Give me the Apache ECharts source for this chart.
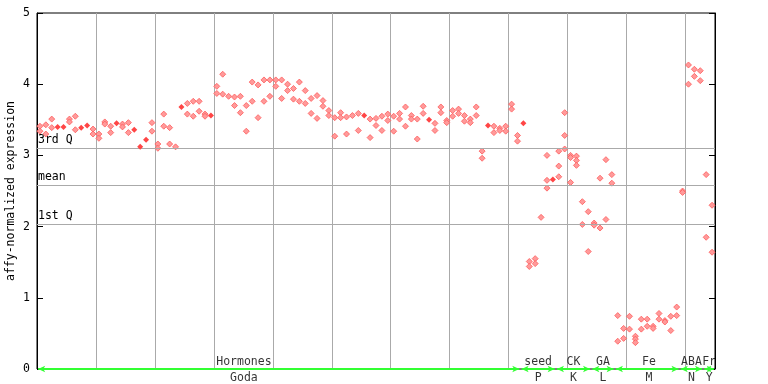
<!DOCTYPE html>
<html><head><meta charset="utf-8">
<script src="https://cdn.jsdelivr.net/npm/echarts@6/dist/echarts.min.js"></script>
<style>html,body{margin:0;padding:0;background:#fff}#c{width:768px;height:384px}</style>
</head><body><div id="c"></div>
<script>
// replicate values per sample (sample i drawn at x = i + 0.5)
const rep1 = [3.41,3.43,3.51,3.40,3.40,3.51,3.55,3.39,3.42,3.37,
  3.30,3.47,3.41,3.45,3.44,3.46,3.36,3.12,3.22,3.46,
  3.16,3.58,3.39,3.12,3.68,3.73,3.76,3.76,3.58,3.56,
  3.97,4.14,3.83,3.82,3.83,3.70,4.03,3.99,4.06,4.06,
  4.06,4.06,4.00,3.94,4.03,3.91,3.80,3.84,3.77,3.63,
  3.53,3.60,3.54,3.56,3.59,3.56,3.51,3.52,3.55,3.58,
  3.55,3.59,3.68,3.56,3.51,3.69,3.50,3.45,3.68,3.49,
  3.63,3.65,3.56,3.51,3.68,3.06,3.42,3.41,3.38,3.41,
  3.72,3.28,3.45,1.51,1.55,2.13,3.00,2.66,3.06,3.60,
  3.00,2.99,2.35,2.21,2.05,2.68,2.94,2.73,0.75,0.57,
  0.74,0.46,0.70,0.70,0.60,0.78,0.68,0.74,0.87,2.50,
  4.27,4.21,4.19,2.73,2.30];
const rep2 = [3.34,3.30,3.39,3.40,3.40,3.47,3.36,3.39,3.42,3.30,
  3.24,3.44,3.32,3.45,3.40,3.32,3.36,3.12,3.22,3.34,
  3.10,3.41,3.16,null,3.68,3.58,3.55,3.62,3.55,3.56,
  3.87,3.86,null,3.70,3.60,3.34,3.76,3.53,3.76,3.83,
  3.97,3.80,3.91,3.79,3.76,3.73,3.59,3.52,3.69,3.56,
  3.27,3.53,3.30,null,3.35,3.56,3.25,3.42,3.35,3.49,
  3.34,3.51,3.41,3.51,3.23,3.59,3.50,3.35,3.60,3.46,
  3.55,3.59,3.48,3.46,3.56,2.96,3.42,3.32,3.35,3.34,
  3.65,3.20,3.45,1.44,1.48,null,2.65,2.66,2.85,3.28,
  2.97,2.93,2.03,1.65,2.02,1.98,2.10,2.61,0.39,0.43,
  0.56,0.42,0.56,0.60,0.57,0.70,0.66,0.54,0.75,2.48,
  4.00,4.11,4.05,1.85,1.64];
const rep3Index = [86,88,89,90,91,101];
const rep3Value = [2.54,2.70,3.09,2.62,2.86,0.37];

const quartileNames = ['3rd Q','mean','1st Q'];
const quartileValues = [3.10,2.58,2.03];

const groupTop = ['Hormones','seed','CK','GA','Fe','ABA','Fr'];
const groupBottom = ['Goda','P','K','L','M','N','Y'];
const groupStart = [0,82,88,94,98,109,113];
const groupEnd = [82,88,94,98,109,113,115];
const groupLabelAt = [35.1,85,91,96,103.8,111,114];

const yTitle = 'affy-normalized expression';

const F = 'DejaVu Sans Mono';
const hollow = [], filled = [];
for (let i = 0; i < rep1.length; i++) {
  const vals = [rep1[i], rep2[i]];
  const k = rep3Index.indexOf(i);
  if (k >= 0) vals.push(rep3Value[k]);
  const v = vals.filter(d => d !== null);
  const x = i + 0.5;
  if (v.length === 2 && v[0] === v[1]) filled.push([x, v[0]]);
  else v.forEach(d => hollow.push([x, d]));
}

const chart = echarts.init(document.getElementById('c'), null, {renderer:'canvas'});
const yBase = {
  type:'value', min:0, max:5, interval:1,
  axisLine:{show:true, lineStyle:{color:'#000', width:1}},
  axisTick:{show:true, inside:true, length:6, lineStyle:{color:'#000'}},
  splitLine:{show:false}
};
chart.setOption({
  animation:false,
  backgroundColor:'#fff',
  grid:{left:37, right:53, top:13, bottom:15, show:true, borderColor:'#000', borderWidth:1,
    containLabel:false, outerBoundsMode:'none'},
  graphic:[{type:'text', x:11.5, y:191, rotation:Math.PI/2,
    style:{text:yTitle, fill:'#000', font:'11.5px "DejaVu Sans Mono"',
      textAlign:'center', textVerticalAlign:'middle'}}],
  xAxis:{type:'value', min:0, max:115, interval:10,
    axisLine:{show:false}, axisTick:{show:false}, axisLabel:{show:false},
    splitLine:{show:true, lineStyle:{color:'#aaaaaa', width:1}}},
  yAxis:[
    Object.assign({}, yBase, {position:'left',
      axisLabel:{color:'#000', fontFamily:F, fontSize:11.5, margin:7}}),
    Object.assign({}, yBase, {position:'right', axisLabel:{show:false}})
  ],
  series:[
    {type:'line', data:[], silent:true,
      markLine:{silent:true, symbol:'none', animation:false,
        lineStyle:{color:'#aaaaaa', width:1, type:'solid'},
        label:{show:true, position:'insideStartTop', formatter:'{b}', distance:[1,2],
          color:'#000', fontFamily:F, fontSize:11.5},
        data: quartileValues.map((v,k)=>({name:quartileNames[k], yAxis:v}))}},
    {type:'scatter', data:hollow, symbol:'diamond', symbolSize:6, z:4,
      itemStyle:{color:'#ff9a9a', borderColor:'#ff5a5a', borderWidth:0.8, opacity:1}},
    {type:'scatter', data:filled, symbol:'diamond', symbolSize:6, z:5,
      itemStyle:{color:'#ff4545', opacity:1}},
    {type:'line', data:[], silent:true, z:6,
      markLine:{silent:true, symbol:['arrow','arrow'], symbolSize:[5,7], animation:false,
        lineStyle:{color:'#33ff33', width:2, type:'solid'},
        label:{show:false},
        data: groupStart.map((s,k)=>[{coord:[s+0.2,0]},{coord:[groupEnd[k]-0.2,0]}])}},
    {type:'scatter', clip:false, symbolSize:0, silent:true, z:7,
      data: groupLabelAt.map((p,k)=>({value:[p,0], name:groupTop[k]})),
      label:{show:true, position:'top', distance:1, formatter:'{b}',
        color:'#000', fontFamily:F, fontSize:11.5}},
    {type:'scatter', clip:false, symbolSize:0, silent:true, z:7,
      data: groupLabelAt.map((p,k)=>({value:[p,0], name:groupBottom[k]})),
      label:{show:true, position:'bottom', distance:3, formatter:'{b}',
        color:'#000', fontFamily:F, fontSize:11.5}}
  ]
});
</script>
</body></html>
